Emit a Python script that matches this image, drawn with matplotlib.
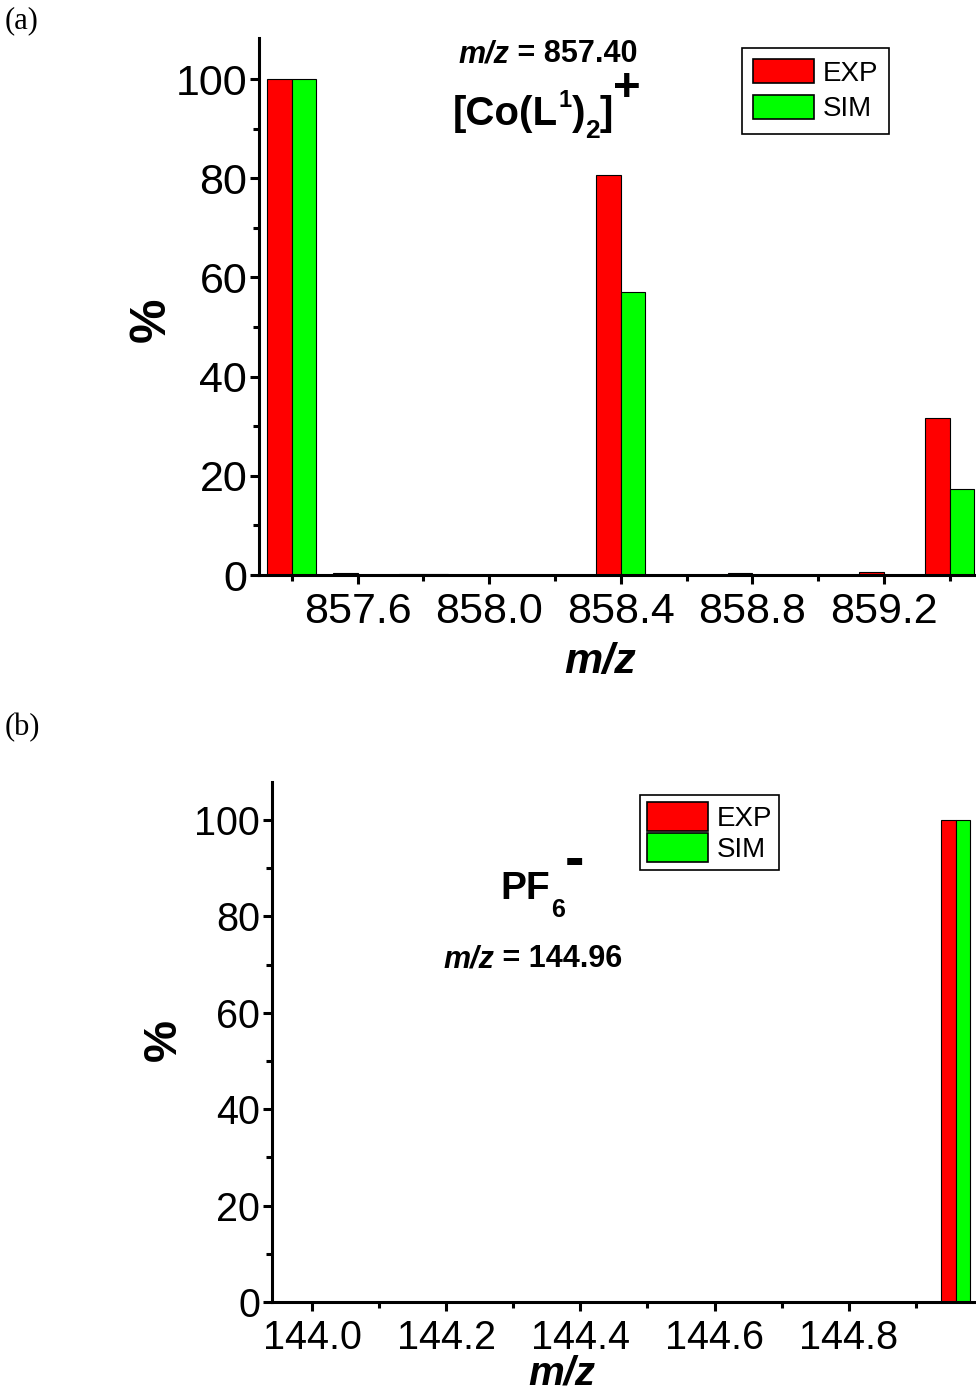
import matplotlib
matplotlib.use('Agg')
import matplotlib.pyplot as plt
from matplotlib.patches import Patch
from matplotlib.ticker import MultipleLocator, FormatStrFormatter

SANS = ['Liberation Sans', 'DejaVu Sans']
SERIF = ['Liberation Serif', 'DejaVu Serif']
plt.rcParams['font.family'] = SANS

RED = '#ff0000'
GREEN = '#00ff00'

# (a) [Co(L1)2]+ isotope pattern
mz_a = [857.4, 857.6, 857.8, 858.4, 858.8, 859.2, 859.4]
exp_a = [100.0, 0.5, 0.3, 80.7, 0.4, 0.6, 31.6]
sim_a = [100.0, 0.0, 0.3, 57.0, 0.0, 0.0, 17.4]
width_a = 0.0745

# (b) PF6- peak
mz_b = [144.96]
exp_b = [100.0]
sim_b = [100.0]
width_b = 0.0217


def style_axes(ax, xmajor, xminor, labelsize):
    for s in ('top', 'right'):
        ax.spines[s].set_visible(False)
    for s in ('left', 'bottom'):
        ax.spines[s].set_linewidth(2.2)
    ax.yaxis.set_major_locator(MultipleLocator(20))
    ax.yaxis.set_minor_locator(MultipleLocator(10))
    ax.xaxis.set_major_locator(MultipleLocator(xmajor))
    ax.xaxis.set_minor_locator(MultipleLocator(xminor))
    ax.xaxis.set_major_formatter(FormatStrFormatter('%.1f'))
    ax.yaxis.set_major_formatter(FormatStrFormatter('%d'))
    ax.tick_params(which='major', direction='out', length=6.5, width=2.2,
                   labelsize=labelsize)
    ax.tick_params(which='minor', direction='out', length=4.5, width=2.2)
    ax.tick_params(axis='x', pad=6)
    ax.tick_params(axis='y', pad=2)


def add_legend(ax, x, y, hh, ls, bp):
    handles = [Patch(facecolor=RED, edgecolor='black', lw=1.2, label='EXP'),
               Patch(facecolor=GREEN, edgecolor='black', lw=1.2, label='SIM')]
    leg = ax.legend(handles=handles, loc='upper left', bbox_to_anchor=(x, y),
                    frameon=True, fancybox=False, edgecolor='black', framealpha=1,
                    prop={'family': SANS, 'size': 20}, borderpad=bp,
                    handlelength=2.2, handleheight=hh, handletextpad=0.3,
                    labelspacing=ls, borderaxespad=0)
    leg.get_frame().set_linewidth(1.2)


def rich_text(ax, x, y, pieces):
    # pieces: (text, size, style, rise_pt, gap_pt); one shared baseline
    prev = None
    for s, size, style, rise, gap in pieces:
        if prev is None:
            prev = ax.text(x, y, s, transform=ax.transAxes, ha='left',
                           va='baseline', fontsize=size, fontweight='bold',
                           fontstyle=style)
        else:
            prev = ax.annotate(s, xy=(1, y), xycoords=(prev, 'axes fraction'),
                               xytext=(gap, rise), textcoords='offset points',
                               ha='left', va='baseline', fontsize=size,
                               fontweight='bold', fontstyle=style)


fig = plt.figure(figsize=(9.76, 13.97), dpi=100)

# ---- panel (a)
ax_a = fig.add_axes([0.2654, 0.5884, 0.7346, 0.3844])
ax_a.bar([m - width_a / 2 for m in mz_a], exp_a, width=width_a, color=RED,
         edgecolor='black', linewidth=0.8)
ax_a.bar([m + width_a / 2 for m in mz_a], sim_a, width=width_a, color=GREEN,
         edgecolor='black', linewidth=0.8)
ax_a.set_xlim(857.3, 859.48)
ax_a.set_ylim(0, 108.3)
style_axes(ax_a, 0.4, 0.2, 31)
ax_a.set_ylabel('%', fontsize=36, fontweight='bold')
ax_a.yaxis.set_label_coords(-0.117, 0.475)
ax_a.set_xlabel('m/z', fontsize=31, fontweight='bold', fontstyle='italic')
ax_a.xaxis.set_label_coords(0.476, -0.125)
add_legend(ax_a, 0.6736, 0.9814, 0.95, 0.3, 0.4)

rich_text(ax_a, 0.2775, 0.955, [
    ('m/z', 22, 'italic', 0, 0),
    (' = 857.40', 22, 'normal', 0, 0),
])
rich_text(ax_a, 0.2705, 0.838, [
    ('[Co(L', 29, 'normal', 0, 0),
    ('1', 17, 'normal', 13, 0.5),
    (')', 29, 'normal', 0, 0),
    ('2', 19, 'normal', -9.5, 0),
    (']', 29, 'normal', 0, 0),
    ('+', 34, 'normal', 17, 0),
])

# ---- panel (b)
ax_b = fig.add_axes([0.2787, 0.0680, 0.7213, 0.3722])
ax_b.bar([m - width_b / 2 for m in mz_b], exp_b, width=width_b, color=RED,
         edgecolor='black', linewidth=0.8)
ax_b.bar([m + width_b / 2 for m in mz_b], sim_b, width=width_b, color=GREEN,
         edgecolor='black', linewidth=0.8)
ax_b.set_xlim(143.94, 144.99)
ax_b.set_ylim(0, 107.9)
style_axes(ax_b, 0.2, 0.1, 28.5)
ax_b.set_ylabel('%', fontsize=34, fontweight='bold')
ax_b.yaxis.set_label_coords(-0.122, 0.504)
ax_b.set_xlabel('m/z', fontsize=29, fontweight='bold', fontstyle='italic')
ax_b.xaxis.set_label_coords(0.412, -0.1)
add_legend(ax_b, 0.5227, 0.975, 1.23, 0.05, 0.25)

rich_text(ax_b, 0.324, 0.775, [
    ('PF', 28, 'normal', 0, 0),
    ('6', 18, 'normal', -13, 1),
    ('-', 42, 'normal', 16, 0),
])
rich_text(ax_b, 0.243, 0.644, [
    ('m/z', 22, 'italic', 0, 0),
    (' = 144.96', 22, 'normal', 0, 0),
])

fig.text(5 / 976, 1 - 6 / 1397, '(a)', family=SERIF, fontsize=22, va='top')
fig.text(5 / 976, 1 - 713 / 1397, '(b)', family=SERIF, fontsize=22, va='top')

fig.savefig('out.png', dpi=100)
